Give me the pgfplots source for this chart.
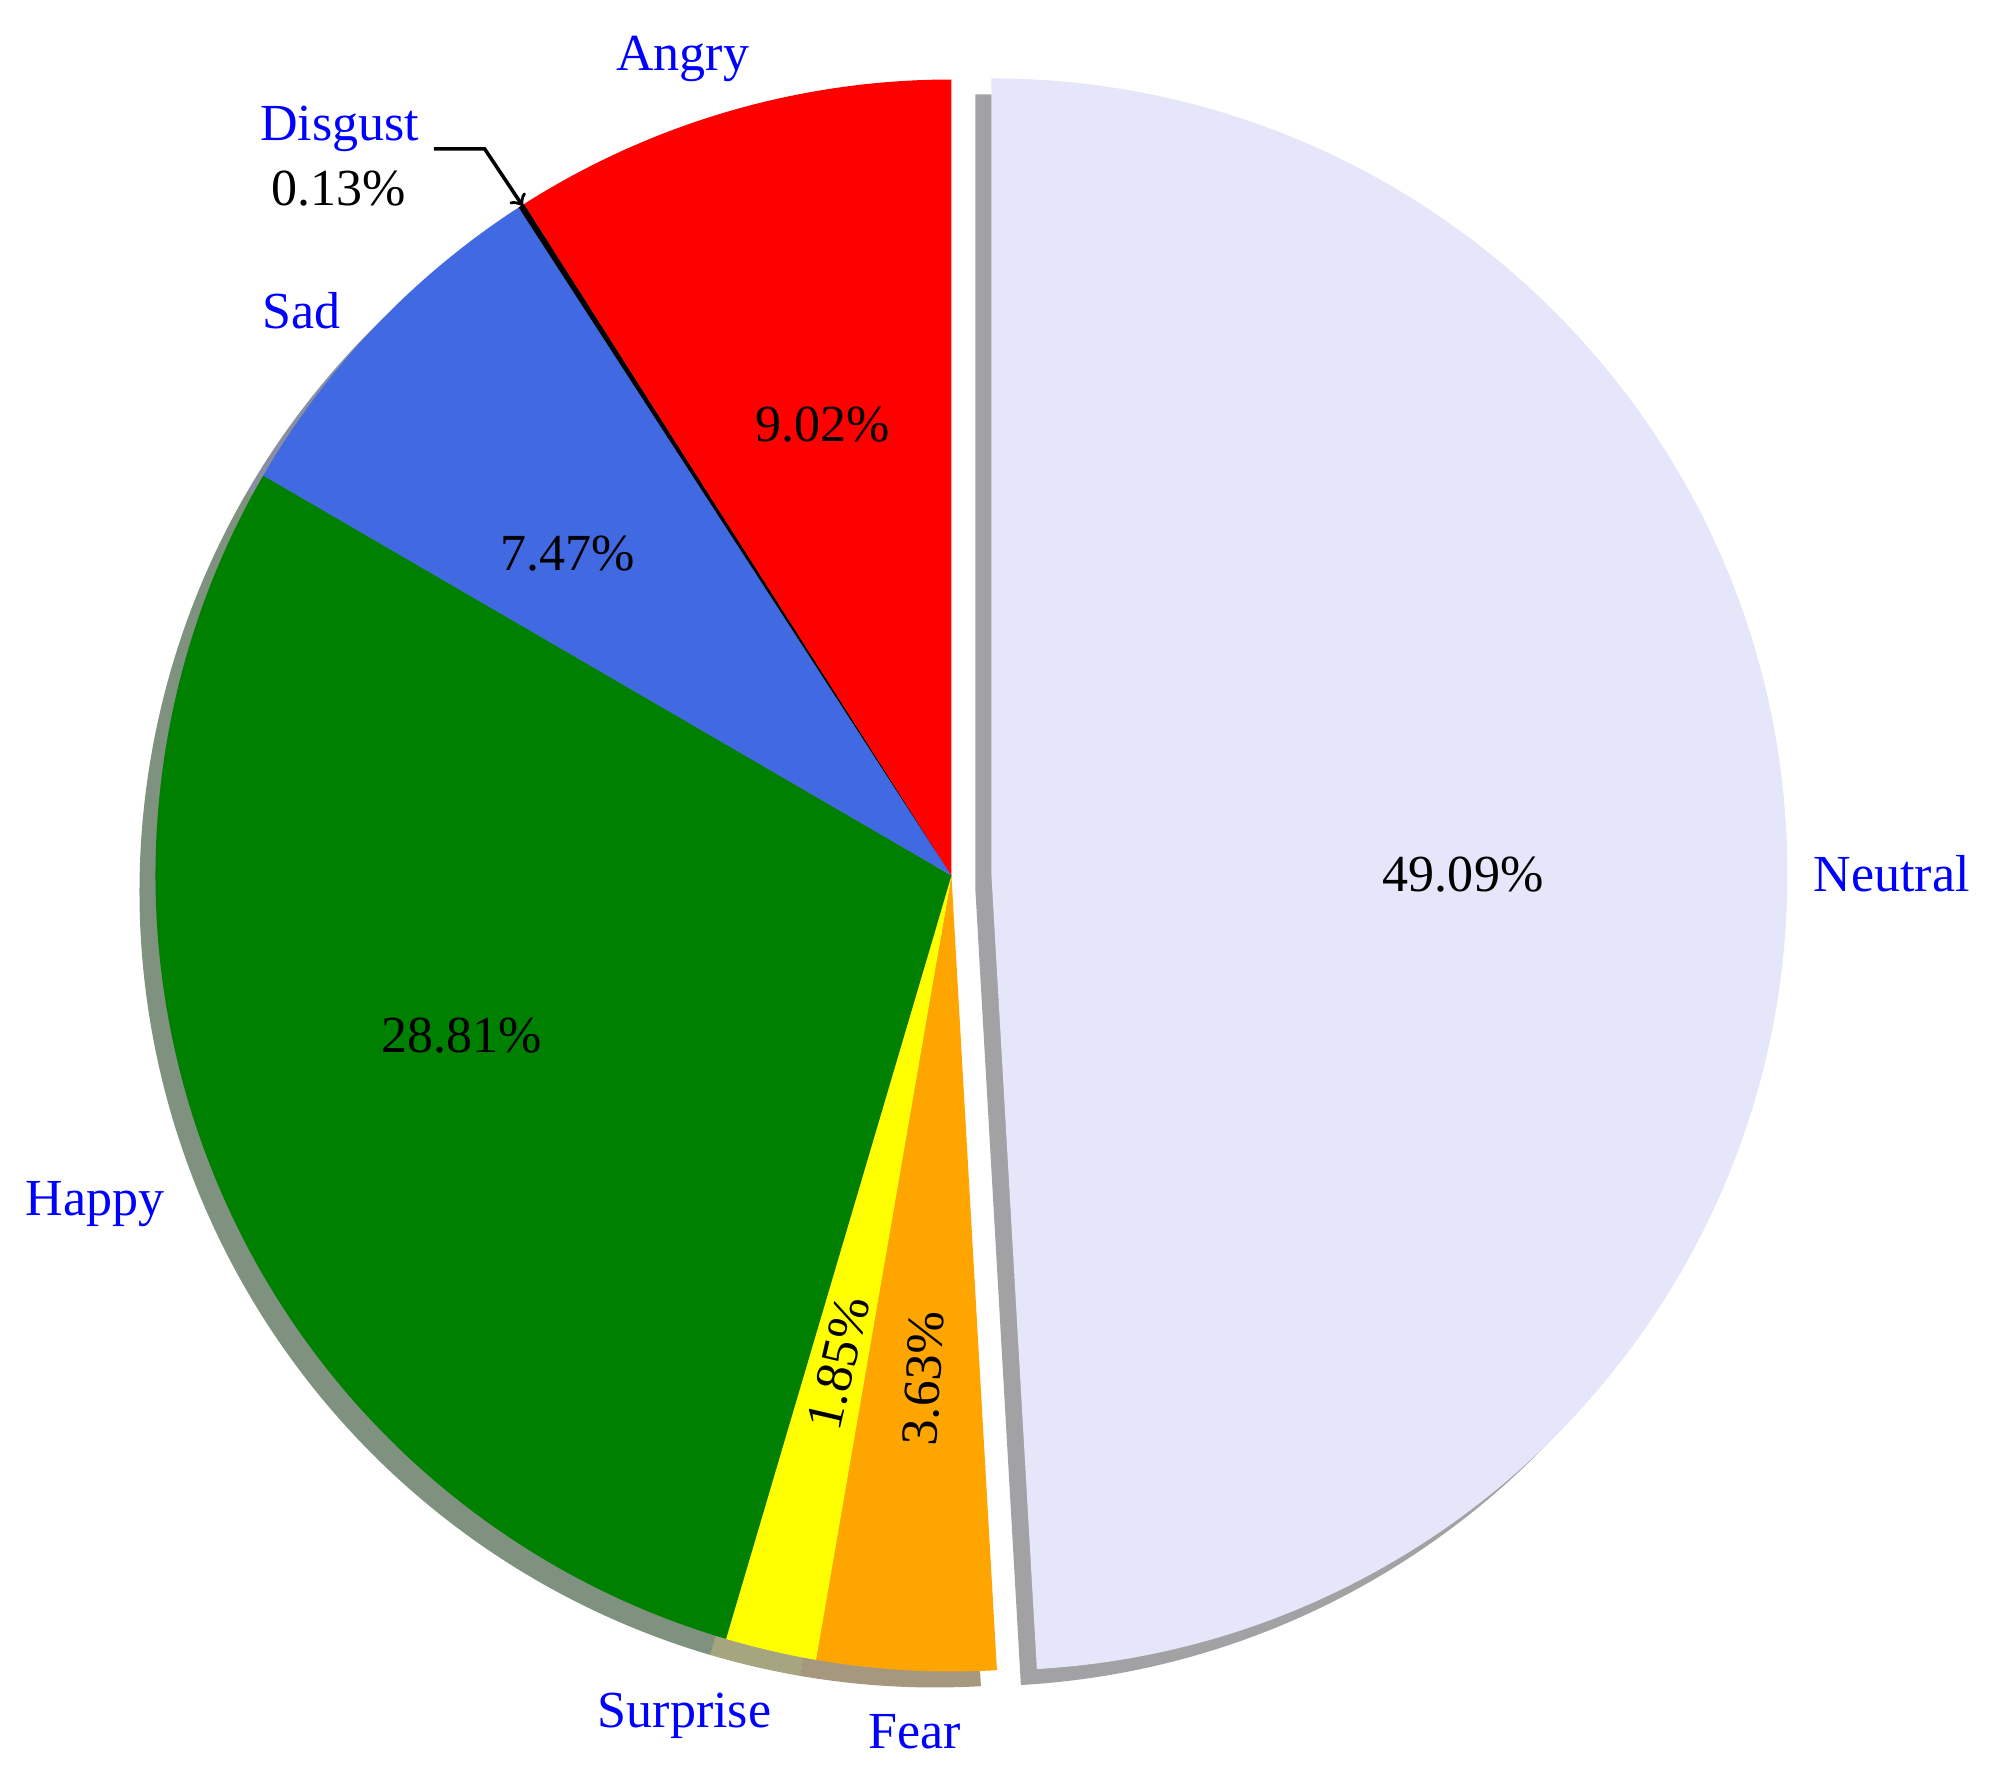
\documentclass[border=0pt]{standalone}
\usepackage{pgfplots}
\pgfplotsset{compat=1.18}
\usepackage{pgfplotstable}
\usepackage{fontspec}
\setmainfont{Liberation Serif}

\definecolor{neutralc}{RGB}{230,230,250}
\definecolor{fearc}{RGB}{255,165,0}
\definecolor{surprisec}{RGB}{255,255,0}
\definecolor{happyc}{RGB}{0,128,0}
\definecolor{sadc}{RGB}{65,105,225}
\definecolor{disgustc}{RGB}{0,0,0}
\definecolor{angryc}{RGB}{255,0,0}
\definecolor{lblblue}{RGB}{0,0,255}

% share in percent, clockwise from 12 o'clock
\pgfplotstableread{
label    share col       explode
Neutral  49.09 neutralc  40
Fear     3.63  fearc     0
Surprise 1.85  surprisec 0
Happy    28.81 happyc    0
Sad      7.47  sadc      0
Disgust  0.13  disgustc  0
Angry    9.02  angryc    0
}\piedata

\begin{document}
\begin{tikzpicture}[font=\fontsize{14.8}{17}\selectfont, every node/.style={inner sep=0pt}]
\begin{axis}[
    hide axis,
    x=0.01cm, y=0.01cm,
    xmin=0, xmax=1992, ymin=0, ymax=1776,
    clip=false,
]
\pgfplotsextra{
  \def\cx{952}\def\cy{901}\def\R{7.96cm}
  % shadows first, then wedges
  \foreach \layer in {0,1}{
    \def\a{90}
    \pgfplotsforeachungrouped \i in {0,...,6}{
      \pgfplotstablegetelem{\i}{share}\of\piedata \let\v\pgfplotsretval
      \pgfplotstablegetelem{\i}{col}\of\piedata \edef\c{\pgfplotsretval}
      \pgfplotstablegetelem{\i}{explode}\of\piedata \let\e\pgfplotsretval
      \pgfmathsetmacro\b{\a-3.6*\v}
      \pgfmathsetmacro\m{(\a+\b)/2}
      \ifnum\layer=0
        \pgfmathsetmacro\ex{\cx+\e*cos(\m)-16}
        \pgfmathsetmacro\ey{\cy+\e*sin(\m)-16}
        \fill[fill=\c!30!black, fill opacity=0.5] (axis cs:\ex,\ey) -- ++(\a:\R)
          arc[start angle=\a, end angle=\b, radius=\R] -- cycle;
      \else
        \pgfmathsetmacro\ex{\cx+\e*cos(\m)}
        \pgfmathsetmacro\ey{\cy+\e*sin(\m)}
        \fill[fill=\c] (axis cs:\ex,\ey) -- ++(\a:\R)
          arc[start angle=\a, end angle=\b, radius=\R] -- cycle;
      \fi
      \let\a\b
    }
  }
}
% category names
\node[lblblue, anchor=base] at (axis cs:683,1706) {Angry};
\node[lblblue, anchor=base] at (axis cs:340,1636) {Disgust};
\node[lblblue, anchor=base] at (axis cs:302,1448) {Sad};
\node[lblblue, anchor=base east] at (axis cs:165,561) {Happy};
\node[lblblue, anchor=base west] at (axis cs:1814,885) {Neutral};
\node[lblblue, anchor=base] at (axis cs:685,49) {Surprise};
\node[lblblue, anchor=base] at (axis cs:915,28) {Fear};
% percentages
\node[anchor=base] at (axis cs:339,1571) {0.13\%};
\node[anchor=base] at (axis cs:823,1335) {9.02\%};
\node[anchor=base] at (axis cs:568,1206) {7.47\%};
\node[anchor=base] at (axis cs:462,724) {28.81\%};
\node[anchor=base] at (axis cs:1464,885) {49.09\%};
\node[rotate=76.88] at (axis cs:839,413) {1.85\%};
\node[rotate=86.74] at (axis cs:924,398) {3.63\%};
\draw[->, line width=1pt] (axis cs:434,1628) -- (axis cs:485,1628) -- (axis cs:523,1571);
\end{axis}
\pgfresetboundingbox
\useasboundingbox (0,0) rectangle (19.92,17.76);
\end{tikzpicture}
\end{document}
